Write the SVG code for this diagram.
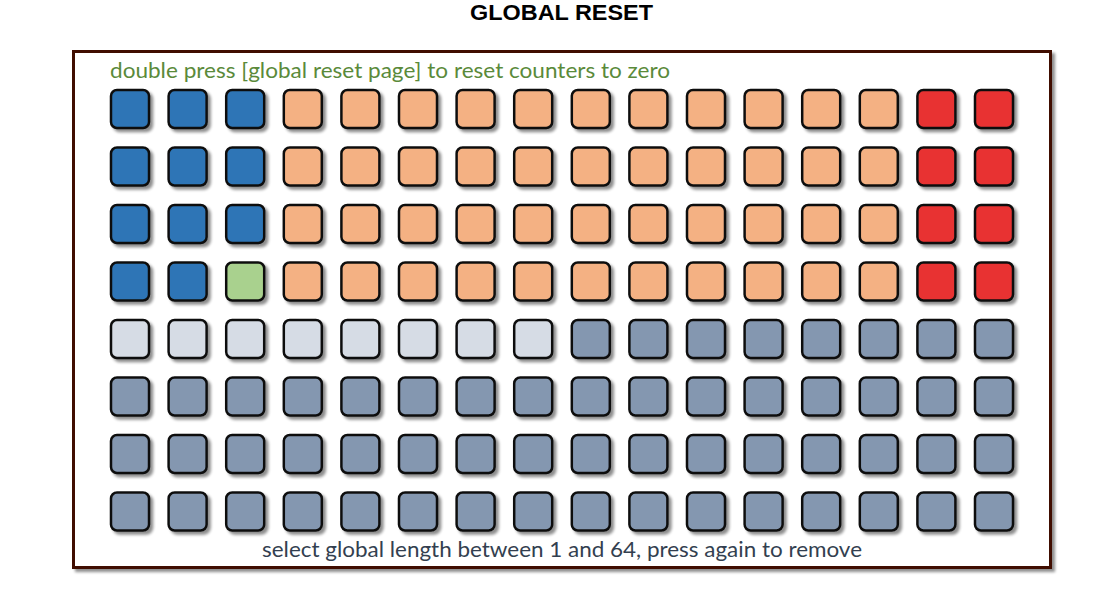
<svg xmlns="http://www.w3.org/2000/svg" width="1104" height="600" viewBox="0 0 1104 600">
<style>
.k{stroke:#111;stroke-width:2.5;filter:url(#sh)}
.b{fill:#2e75b6}.o{fill:#f4b183}.r{fill:#e83232}.g{fill:#a9d18e}.l{fill:#d6dce5}.s{fill:#8497b0}
.t{font-family:"Liberation Sans",Arial,sans-serif;font-weight:bold;font-size:22px;fill:#000}
.c{font-family:Lato,"Open Sans",sans-serif;font-size:22px}
</style>
<defs>
<filter id="sh" x="-20%" y="-20%" width="150%" height="150%">
<feGaussianBlur in="SourceAlpha" stdDeviation="1.8"/>
<feOffset dx="3" dy="3" result="o"/>
<feComponentTransfer><feFuncA type="linear" slope="0.45"/></feComponentTransfer>
<feMerge><feMergeNode/><feMergeNode in="SourceGraphic"/></feMerge>
</filter>
<rect id="k" width="38" height="38" rx="6" class="k"/>
</defs>
<rect width="1104" height="600" fill="#fff"/>
<text class="t" x="470" y="20" textLength="183" lengthAdjust="spacingAndGlyphs">GLOBAL RESET</text>
<rect id="frame" x="73.5" y="51.5" width="977" height="516" fill="#fff" stroke="#3f0a02" stroke-width="3" filter="url(#sh)"/>
<text class="c" x="110" y="78" fill="#5a8a3a" textLength="560" lengthAdjust="spacingAndGlyphs">double press [global reset page] to reset counters to zero</text>
<text class="c" x="262" y="557" fill="#333f50" textLength="600" lengthAdjust="spacingAndGlyphs">select global length between 1 and 64, press again to remove</text>
<g id="grid">
<g id="row0" transform="translate(0,90)">
<use href="#k" x="111" class="b"/><use href="#k" x="168.6" class="b"/><use href="#k" x="226.2" class="b"/><use href="#k" x="283.8" class="o"/><use href="#k" x="341.4" class="o"/><use href="#k" x="399" class="o"/><use href="#k" x="456.6" class="o"/><use href="#k" x="514.2" class="o"/><use href="#k" x="571.8" class="o"/><use href="#k" x="629.4" class="o"/><use href="#k" x="687" class="o"/><use href="#k" x="744.6" class="o"/><use href="#k" x="802.2" class="o"/><use href="#k" x="859.8" class="o"/><use href="#k" x="917.4" class="r"/><use href="#k" x="975" class="r"/>
</g>
<g id="row1" transform="translate(0,147.5)">
<use href="#k" x="111" class="b"/><use href="#k" x="168.6" class="b"/><use href="#k" x="226.2" class="b"/><use href="#k" x="283.8" class="o"/><use href="#k" x="341.4" class="o"/><use href="#k" x="399" class="o"/><use href="#k" x="456.6" class="o"/><use href="#k" x="514.2" class="o"/><use href="#k" x="571.8" class="o"/><use href="#k" x="629.4" class="o"/><use href="#k" x="687" class="o"/><use href="#k" x="744.6" class="o"/><use href="#k" x="802.2" class="o"/><use href="#k" x="859.8" class="o"/><use href="#k" x="917.4" class="r"/><use href="#k" x="975" class="r"/>
</g>
<g id="row2" transform="translate(0,205)">
<use href="#k" x="111" class="b"/><use href="#k" x="168.6" class="b"/><use href="#k" x="226.2" class="b"/><use href="#k" x="283.8" class="o"/><use href="#k" x="341.4" class="o"/><use href="#k" x="399" class="o"/><use href="#k" x="456.6" class="o"/><use href="#k" x="514.2" class="o"/><use href="#k" x="571.8" class="o"/><use href="#k" x="629.4" class="o"/><use href="#k" x="687" class="o"/><use href="#k" x="744.6" class="o"/><use href="#k" x="802.2" class="o"/><use href="#k" x="859.8" class="o"/><use href="#k" x="917.4" class="r"/><use href="#k" x="975" class="r"/>
</g>
<g id="row3" transform="translate(0,262.5)">
<use href="#k" x="111" class="b"/><use href="#k" x="168.6" class="b"/><use href="#k" x="226.2" class="g"/><use href="#k" x="283.8" class="o"/><use href="#k" x="341.4" class="o"/><use href="#k" x="399" class="o"/><use href="#k" x="456.6" class="o"/><use href="#k" x="514.2" class="o"/><use href="#k" x="571.8" class="o"/><use href="#k" x="629.4" class="o"/><use href="#k" x="687" class="o"/><use href="#k" x="744.6" class="o"/><use href="#k" x="802.2" class="o"/><use href="#k" x="859.8" class="o"/><use href="#k" x="917.4" class="r"/><use href="#k" x="975" class="r"/>
</g>
<g id="row4" transform="translate(0,320)">
<use href="#k" x="111" class="l"/><use href="#k" x="168.6" class="l"/><use href="#k" x="226.2" class="l"/><use href="#k" x="283.8" class="l"/><use href="#k" x="341.4" class="l"/><use href="#k" x="399" class="l"/><use href="#k" x="456.6" class="l"/><use href="#k" x="514.2" class="l"/><use href="#k" x="571.8" class="s"/><use href="#k" x="629.4" class="s"/><use href="#k" x="687" class="s"/><use href="#k" x="744.6" class="s"/><use href="#k" x="802.2" class="s"/><use href="#k" x="859.8" class="s"/><use href="#k" x="917.4" class="s"/><use href="#k" x="975" class="s"/>
</g>
<g id="row5" transform="translate(0,377.5)">
<use href="#k" x="111" class="s"/><use href="#k" x="168.6" class="s"/><use href="#k" x="226.2" class="s"/><use href="#k" x="283.8" class="s"/><use href="#k" x="341.4" class="s"/><use href="#k" x="399" class="s"/><use href="#k" x="456.6" class="s"/><use href="#k" x="514.2" class="s"/><use href="#k" x="571.8" class="s"/><use href="#k" x="629.4" class="s"/><use href="#k" x="687" class="s"/><use href="#k" x="744.6" class="s"/><use href="#k" x="802.2" class="s"/><use href="#k" x="859.8" class="s"/><use href="#k" x="917.4" class="s"/><use href="#k" x="975" class="s"/>
</g>
<g id="row6" transform="translate(0,435)">
<use href="#k" x="111" class="s"/><use href="#k" x="168.6" class="s"/><use href="#k" x="226.2" class="s"/><use href="#k" x="283.8" class="s"/><use href="#k" x="341.4" class="s"/><use href="#k" x="399" class="s"/><use href="#k" x="456.6" class="s"/><use href="#k" x="514.2" class="s"/><use href="#k" x="571.8" class="s"/><use href="#k" x="629.4" class="s"/><use href="#k" x="687" class="s"/><use href="#k" x="744.6" class="s"/><use href="#k" x="802.2" class="s"/><use href="#k" x="859.8" class="s"/><use href="#k" x="917.4" class="s"/><use href="#k" x="975" class="s"/>
</g>
<g id="row7" transform="translate(0,492.5)">
<use href="#k" x="111" class="s"/><use href="#k" x="168.6" class="s"/><use href="#k" x="226.2" class="s"/><use href="#k" x="283.8" class="s"/><use href="#k" x="341.4" class="s"/><use href="#k" x="399" class="s"/><use href="#k" x="456.6" class="s"/><use href="#k" x="514.2" class="s"/><use href="#k" x="571.8" class="s"/><use href="#k" x="629.4" class="s"/><use href="#k" x="687" class="s"/><use href="#k" x="744.6" class="s"/><use href="#k" x="802.2" class="s"/><use href="#k" x="859.8" class="s"/><use href="#k" x="917.4" class="s"/><use href="#k" x="975" class="s"/>
</g>
</g>
</svg>
